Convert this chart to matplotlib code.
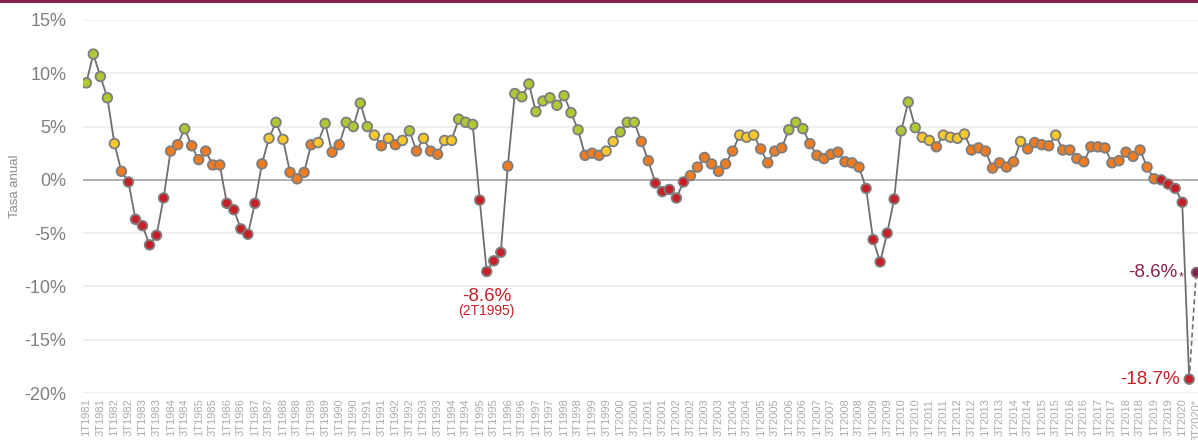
import matplotlib.pyplot as plt
from matplotlib.lines import Line2D

plt.rcParams['font.family'] = ['Liberation Sans', 'DejaVu Sans']

# Tasa anual (%) por trimestre, 1T1981 - 2T2020
tasa = [
    9.1, 11.8, 9.7, 7.7,     # 1981
    3.4, 0.8, -0.2, -3.7,    # 1982
    -4.3, -6.1, -5.2, -1.7,  # 1983
    2.7, 3.3, 4.8, 3.2,      # 1984
    1.9, 2.7, 1.4, 1.4,      # 1985
    -2.2, -2.8, -4.6, -5.1,  # 1986
    -2.2, 1.5, 3.9, 5.4,     # 1987
    3.8, 0.7, 0.1, 0.7,      # 1988
    3.3, 3.5, 5.3, 2.6,      # 1989
    3.3, 5.4, 5.0, 7.2,      # 1990
    5.0, 4.2, 3.2, 3.9,      # 1991
    3.3, 3.7, 4.6, 2.7,      # 1992
    3.9, 2.7, 2.4, 3.7,      # 1993
    3.7, 5.7, 5.4, 5.2,      # 1994
    -1.9, -8.6, -7.6, -6.8,  # 1995
    1.3, 8.1, 7.8, 9.0,      # 1996
    6.4, 7.4, 7.7, 7.0,      # 1997
    7.9, 6.3, 4.7, 2.3,      # 1998
    2.5, 2.3, 2.7, 3.6,      # 1999
    4.5, 5.4, 5.4, 3.6,      # 2000
    1.8, -0.3, -1.1, -0.9,   # 2001
    -1.7, -0.2, 0.4, 1.2,    # 2002
    2.1, 1.5, 0.8, 1.5,      # 2003
    2.7, 4.2, 4.0, 4.2,      # 2004
    2.9, 1.6, 2.7, 3.0,      # 2005
    4.7, 5.4, 4.8, 3.4,      # 2006
    2.3, 2.0, 2.4, 2.6,      # 2007
    1.7, 1.6, 1.2, -0.8,     # 2008
    -5.6, -7.7, -5.0, -1.8,  # 2009
    4.6, 7.3, 4.9, 4.0,      # 2010
    3.7, 3.1, 4.2, 4.0,      # 2011
    3.9, 4.3, 2.8, 3.0,      # 2012
    2.7, 1.1, 1.6, 1.2,      # 2013
    1.7, 3.6, 2.9, 3.5,      # 2014
    3.3, 3.2, 4.2, 2.8,      # 2015
    2.8, 2.0, 1.7, 3.1,      # 2016
    3.1, 3.0, 1.6, 1.8,      # 2017
    2.6, 2.2, 2.8, 1.2,      # 2018
    0.1, 0.0, -0.4, -0.8,    # 2019
    -2.1, -18.7,             # 2020
]

# semaforo por trimestre: V verde, A amarillo, N naranja, R rojo
nivel = ("VVVV ANRR RRRR NNVN NNNN RRRR RNAV ANNN NAVN NVVV "
         "VANA NAVN ANNA AVVV RRRR NVVV VVVV VVVN NNAA VVVN "
         "NRRR RRNN NNNN NAAA NNNN VVVN NNNN NNNR RRRR VVVA "
         "ANAA AANN NNNN NANN NNAN NNNN NNNN NNNN NRRR RR").replace(" ", "")

# estimacion 3T2020*
tasa_est = -8.6

anio_ini, anio_fin = 1981, 2020
y_ticks = [15, 10, 5, 0, -5, -10, -15, -20]
y_labels = ["15%", "10%", "5%", "0%", "-5%", "-10%", "-15%", "-20%"]

colores = {"V": "#afc935", "A": "#f8c928", "N": "#f07c22", "R": "#c81f27"}
morado = "#85204f"

n = len(tasa)
x = list(range(n))
x_est = n

# etiquetas cada dos trimestres
etiquetas = []
for anio in range(anio_ini, anio_fin + 1):
    for q in (1, 3):
        etiquetas.append(f"{q}T{anio}")
etiquetas[-1] = etiquetas[-1] + "*"
pos_etiq = list(range(0, n + 1, 2))

fig = plt.figure(figsize=(11.98, 4.4), dpi=100)
ax = fig.add_axes([83 / 1198, 47 / 440, 1 - 83 / 1198, 373 / 440])

# rejilla
for v in y_ticks:
    if v == 0:
        ax.axhline(0, color="#a9a9a9", lw=1.3, zorder=1)
    else:
        ax.axhline(v, color="#ececec", lw=1.2, zorder=0)

ax.plot(x, tasa, color="#6e6e6e", lw=1.3, zorder=2)
ax.plot([n - 1, x_est], [tasa[-1], tasa_est], color="#6e6e6e", lw=1.2,
        ls=(0, (3, 2)), zorder=2)
ax.scatter(x, tasa, s=48, c=[colores[c] for c in nivel], edgecolors="#7d7d7d",
           linewidths=1.3, zorder=3)
ax.scatter([x_est], [tasa_est], s=48, c=morado, edgecolors="#8a6a7a",
           linewidths=1.3, zorder=3, clip_on=False)

ax.set_xlim(-0.47, n + 0.25)
ax.set_ylim(-20, 15)
ax.set_yticks(y_ticks)
ax.set_yticklabels(y_labels, fontsize=13, color="#7f7f7f")
ax.set_xticks(pos_etiq)
ax.set_xticklabels(etiquetas, rotation=90, fontsize=8, color="#ababab", va="top")
ax.tick_params(axis="both", length=0)
ax.tick_params(axis="y", pad=12)
ax.tick_params(axis="x", pad=4)
for s in ax.spines.values():
    s.set_visible(False)

# anotaciones
i_min = tasa.index(-8.6)
ax.text(i_min, -10.9, "-8.6%", color="#c81f27", fontsize=13.5, ha="center", va="center")
ax.text(i_min, -12.3, "(2T1995)", color="#c81f27", fontsize=10, ha="center", va="center")
ax.annotate("-18.7%", xy=(n - 1, tasa[-1]), xytext=(-7, 0), textcoords="offset points",
            color="#c81f27", fontsize=13.5, ha="right", va="center")
ax.annotate("-8.6%", xy=(x_est, tasa_est), xytext=(-13.5, -1), textcoords="offset points",
            color=morado, fontsize=13.5, ha="right", va="center", annotation_clip=False)
ax.annotate("*", xy=(x_est, tasa_est), xytext=(-9, -4), textcoords="offset points",
            color=morado, fontsize=9, ha="right", va="center", annotation_clip=False)

fig.text(15 / 1198, 1 - 186 / 440, "Tasa anual", rotation=90, fontsize=9.5,
         color="#8c8c8c", ha="center", va="center")

# franja superior
fig.add_artist(Line2D([0, 1], [1 - 1 / 440, 1 - 1 / 440], color=morado, lw=2.2,
                      transform=fig.transFigure))

fig.savefig("out.png", dpi=100)
